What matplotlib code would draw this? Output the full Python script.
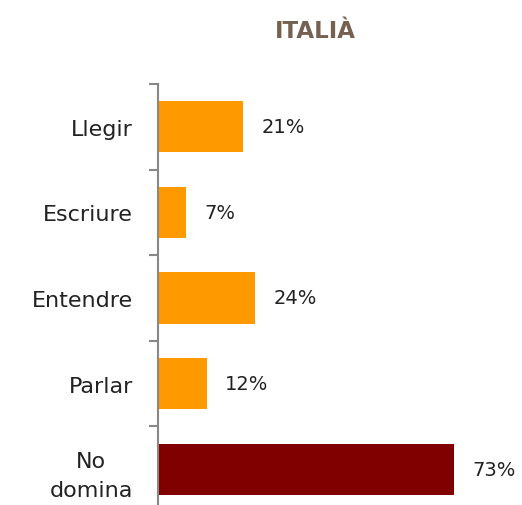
import matplotlib
matplotlib.use("Agg")
import matplotlib.pyplot as plt

categories = ["Llegir", "Escriure", "Entendre", "Parlar", "No\ndomina"]
values = [21, 7, 24, 12, 73]
colors = ["#FF9900", "#FF9900", "#FF9900", "#FF9900", "#800000"]


def main():
    fig = plt.figure(figsize=(5.22, 5.06), dpi=100)
    # axes: left spine at x=158px, top at y=85px, 85.6px per category
    ax = fig.add_axes([158 / 522, 1 - 513 / 506, (515 - 158) / 522, 428 / 506])

    ypos = list(range(len(categories)))
    ax.barh(ypos, values, height=0.6, color=colors)
    ax.set_ylim(len(categories) - 0.5, -0.5)
    ax.set_xlim(0, 88)

    for y, v in zip(ypos, values):
        ax.annotate(f"{v}%", (v, y), xytext=(13, 0), textcoords="offset points",
                    va="center", ha="left", fontsize=14, color="#222222")

    ax.set_yticks([i + 0.5 for i in range(-1, len(categories))], [""] * (len(categories) + 1))
    ax.set_yticks(ypos, categories, minor=True)
    ax.tick_params(axis="y", which="minor", length=0, pad=18, labelsize=16, labelcolor="#222222")
    ax.tick_params(axis="y", which="major", length=6.5, width=1.5, color="#888888")
    for lab in ax.get_yticklabels(minor=True):
        lab.set_horizontalalignment("right")
        lab.set_multialignment("center")
        lab.set_linespacing(1.55)

    ax.set_xticks([])
    for s in ["top", "right", "bottom"]:
        ax.spines[s].set_visible(False)
    ax.spines["left"].set_color("#888888")
    ax.spines["left"].set_linewidth(1.5)

    fig.text(315 / 522, 1 - 32 / 506, "ITALIÀ", ha="center", va="center",
             fontsize=16.5, fontweight="bold", color="#76604F")

    fig.savefig("out.png", dpi=100)


if __name__ == "__main__":
    main()
